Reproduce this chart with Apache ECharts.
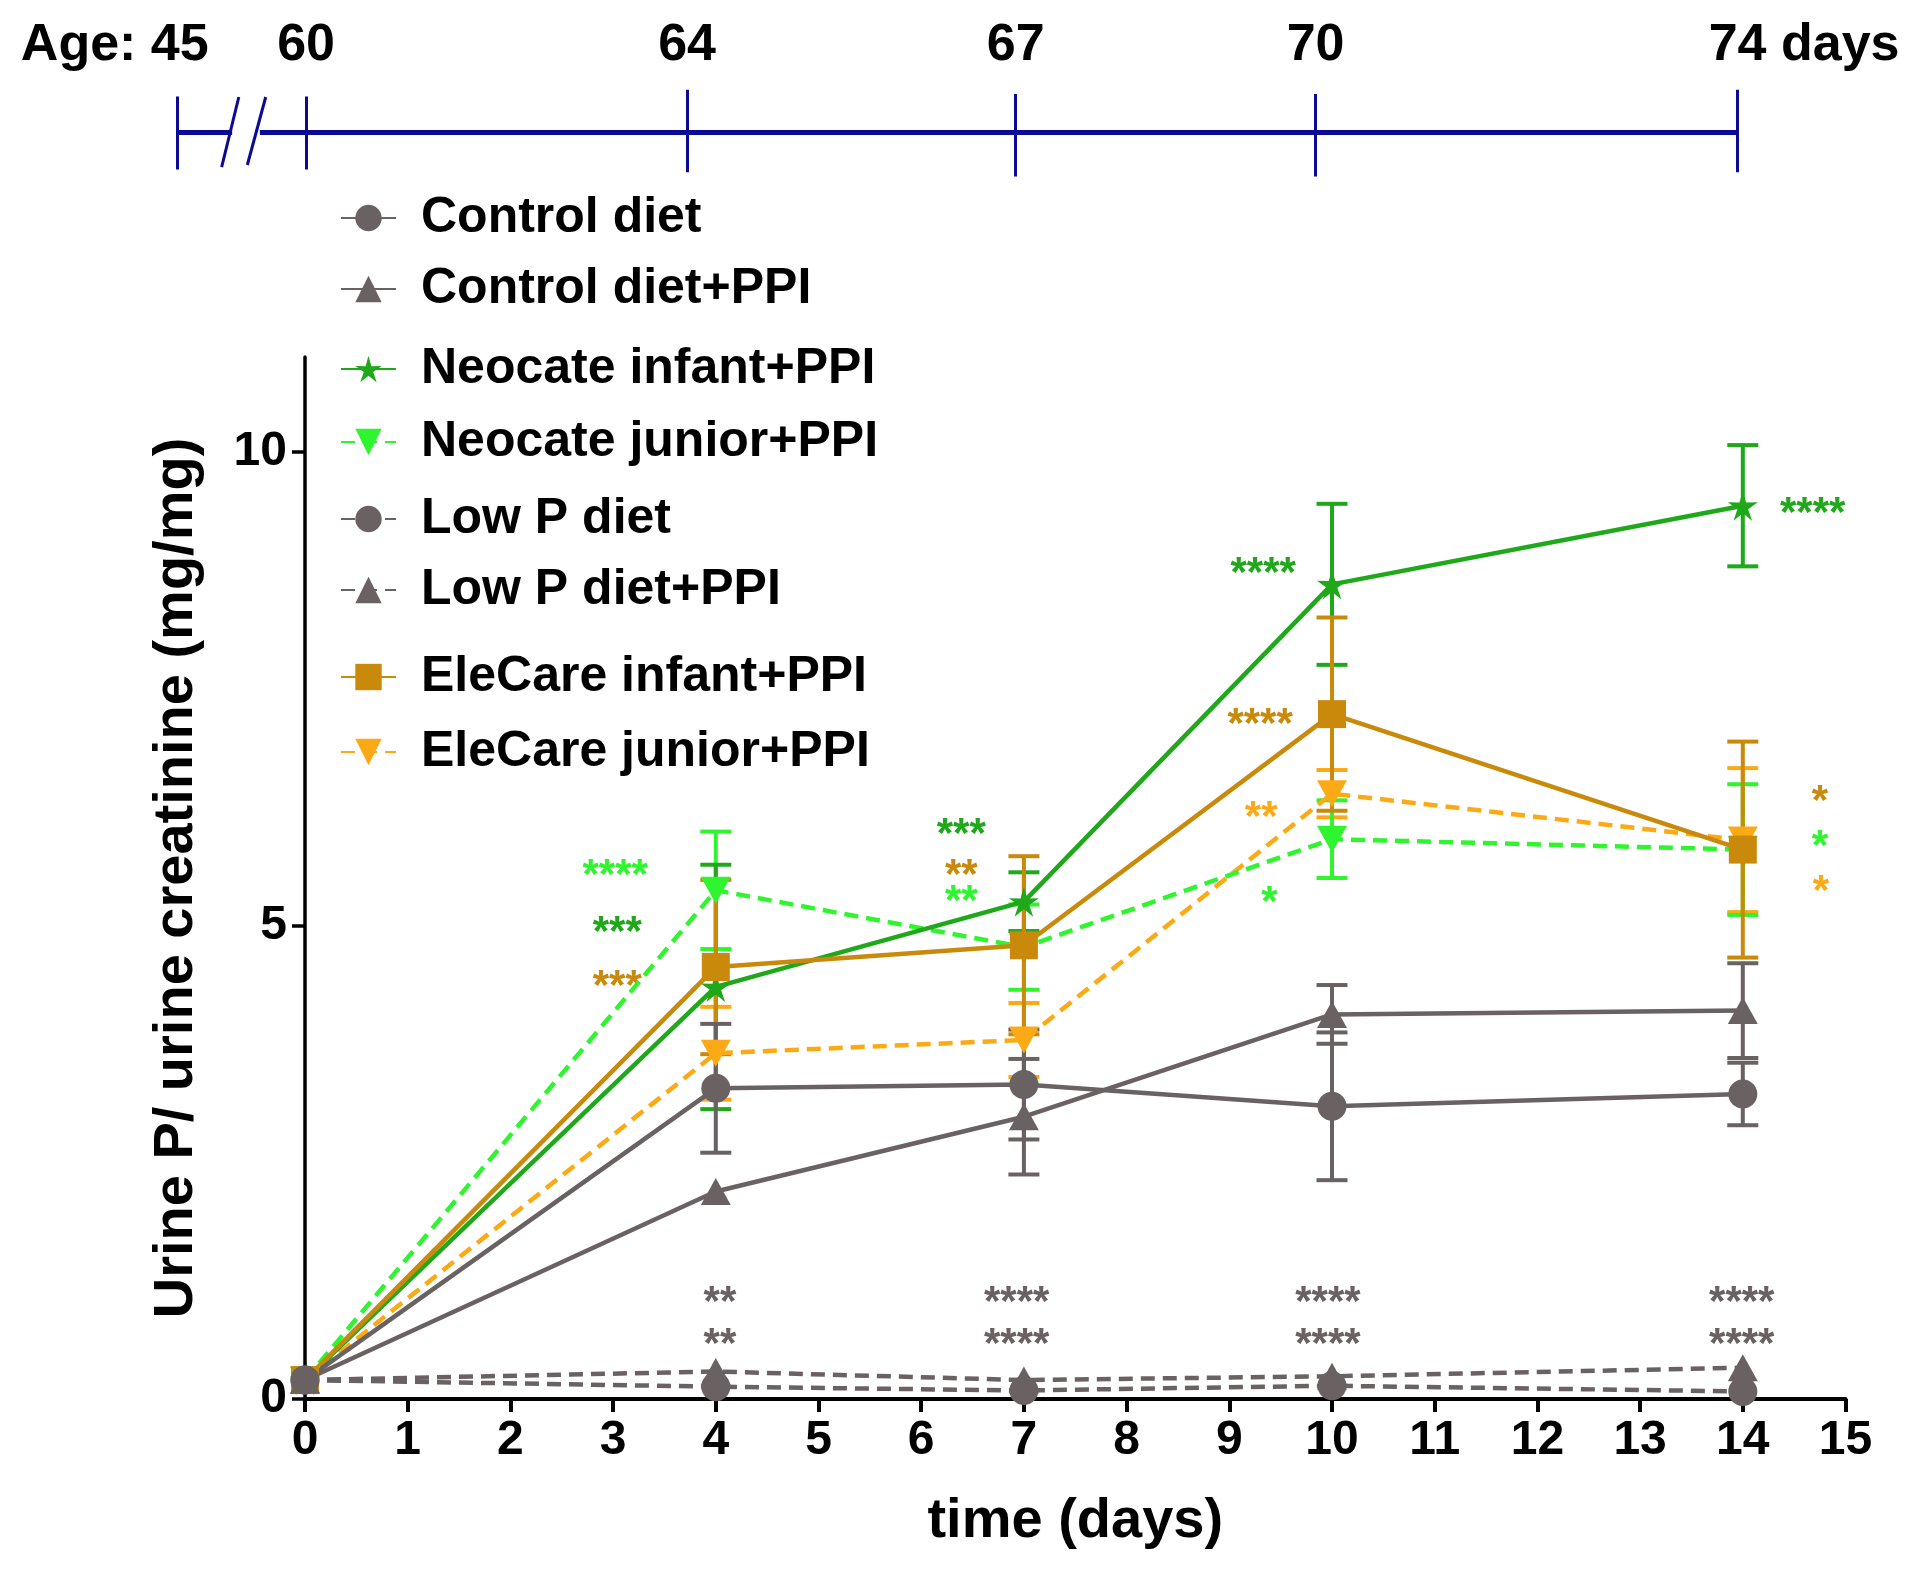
<!DOCTYPE html>
<html><head><meta charset="utf-8">
<script src="https://cdn.jsdelivr.net/npm/echarts@6/dist/echarts.min.js"></script>
<style>html,body{margin:0;padding:0;background:#fff}#c{width:1920px;height:1570px}</style>
</head><body><div id="c"></div>
<script>
// ---------- data ----------
const days = [0, 4, 7, 10, 14];
const xTickValues = [0,1,2,3,4,5,6,7,8,9,10,11,12,13,14,15];
const yTickValues = [0, 5, 10];

const controlDiet       = [0.2, 3.28, 3.32, 3.09, 3.22];
const controlDietErr    = [0, 0.68, 0.58, 0.78, 0.33];
const controlDietPPI    = [0.2, 2.19, 2.98, 4.06, 4.10];
const controlDietPPIErr = [0, 0, 0.61, 0.31, 0.50];
const neoInfant         = [0.2, 4.35, 5.25, 8.60, 9.43];
const neoInfantErr      = [0, 1.29, 0.31, 0.85, 0.64];
const neoJunior         = [0.2, 5.37, 4.77, 5.91, 5.80];
const neoJuniorErr      = [0, 0.62, 0.45, 0.41, 0.69];
const lowP              = [0.2, 0.13, 0.09, 0.14, 0.08];
const lowPErr           = [0, 0, 0, 0, 0];
const lowPPPI           = [0.2, 0.29, 0.20, 0.24, 0.33];
const lowPPPIErr        = [0, 0, 0, 0, 0];
const eleInfant         = [0.2, 4.56, 4.79, 7.23, 5.80];
const eleInfantErr      = [0, 0.92, 0.94, 1.02, 1.14];
const eleJunior         = [0.2, 3.65, 3.79, 6.39, 5.90];
const eleJuniorErr      = [0, 0.49, 0.39, 0.25, 0.76];

// significance marks (position in day / value units, text, colour key)
const annotationX = [3.02, 3.04, 3.04, 6.39, 6.39, 6.39, 9.33, 9.30, 9.31, 9.39, 14.68, 14.75, 14.75, 14.76, 4.04, 4.04, 6.93, 6.93, 9.96, 9.96, 13.99, 13.99];
const annotationY = [5.61, 5.01, 4.44, 6.04, 5.61, 5.34, 8.80, 7.21, 6.22, 5.33, 9.43, 6.39, 5.92, 5.44, 1.10, 0.66, 1.10, 0.66, 1.10, 0.66, 1.10, 0.66];
const annotationText = ['****','***','***','***','**','**','****','****','**','*','****','*','*','*','**','**','****','****','****','****','****','****'];
const annotationColor = ['lg','dg','gd','dg','gd','lg','dg','gd','or','lg','dg','gd','lg','or','gr','gr','gr','gr','gr','gr','gr','gr'];

// age timeline (positions on the day scale)
const timelineLabels = ['Age: 45', '60', '64', '67', '70', '74 days'];
const timelineDays   = [-1.24, 0.01, 3.72, 6.92, 9.84, 13.95];
const timelineTickTop    = [0.55, 0.55, 0.59, 0.565, 0.565, 0.59];
const timelineTickBottom = [0.12, 0.12, 0.105, 0.08, 0.08, 0.105];
const timelineLineY = 0.337;
const timelineLabelY = 0.85;
const timelineSegments = [[-1.24, -0.71], [-0.44, 13.95]];
const timelineBreaks = [[[-0.645, 0.547], [-0.812, 0.135]], [[-0.383, 0.547], [-0.562, 0.147]]];

// ---------- styles ----------
const FONT = "'Liberation Sans', Arial, Helvetica, sans-serif";
const C = {gr:'#6a6163', dg:'#1ea81a', lg:'#2ef52e', gd:'#c98a0c', or:'#fbaa16', navy:'#0a0a96'};
const STAR = 'path://M0,-10L2.1,-2.9L9.51,-3.09L3.4,1.1L5.88,8.09L0,3.6L-5.88,8.09L-3.4,1.1L-9.51,-3.09L-2.1,-2.9Z';
const DOWN = 'path://M0,0L10,0L5,9Z';

function lineSeries(name, values, color, symbol, size, dashed) {
  return {
    type: 'line', name, xAxisIndex: 0, yAxisIndex: 0,
    data: days.map((d, i) => [d, values[i]]),
    symbol, symbolSize: size, showAllSymbol: true, clip: false,
    lineStyle: {color, width: 4.5, type: dashed ? [14, 8] : 'solid'},
    itemStyle: {color, opacity: 1},
    emphasis: {disabled: true}, animation: false
  };
}
function errSeries(name, values, errs, color) {
  return {
    type: 'custom', name: name + ' err', xAxisIndex: 0, yAxisIndex: 0,
    data: days.map((d, i) => [d, values[i], errs[i]]),
    encode: {x: 0, y: 1},
    renderItem(params, api) {
      const x = api.value(0), y = api.value(1), e = api.value(2);
      if (!e) return null;
      const t = api.coord([x, y + e]), b = api.coord([x, y - e]);
      const hw = 15.5, st = {stroke: color, lineWidth: 4};
      return {type: 'group', children: [
        {type: 'line', shape: {x1: t[0], y1: t[1], x2: b[0], y2: b[1]}, style: st},
        {type: 'line', shape: {x1: t[0]-hw, y1: t[1], x2: t[0]+hw, y2: t[1]}, style: st},
        {type: 'line', shape: {x1: b[0]-hw, y1: b[1], x2: b[0]+hw, y2: b[1]}, style: st}
      ]};
    },
    silent: true, animation: false
  };
}

const defs = [
  ['EleCare junior+PPI', eleJunior, eleJuniorErr, C.or, DOWN, [30, 27], true],
  ['Neocate junior+PPI', neoJunior, neoJuniorErr, C.lg, DOWN, [30, 27], true],
  ['Neocate infant+PPI', neoInfant, neoInfantErr, C.dg, STAR, 30, false],
  ['EleCare infant+PPI', eleInfant, eleInfantErr, C.gd, 'rect', 28, false],
  ['Control diet+PPI', controlDietPPI, controlDietPPIErr, C.gr, 'triangle', [30, 27], false],
  ['Control diet', controlDiet, controlDietErr, C.gr, 'circle', 29, false],
  ['Low P diet+PPI', lowPPPI, lowPPPIErr, C.gr, 'triangle', [30, 27], true],
  ['Low P diet', lowP, lowPErr, C.gr, 'circle', 29, true]
];
const series = [];
defs.forEach(d => {
  series.push(errSeries(d[0], d[1], d[2], d[3]));
  series.push(lineSeries(d[0], d[1], d[3], d[4], d[5], d[6]));
});

// significance labels
series.push({
  type: 'scatter', name: 'sig', xAxisIndex: 0, yAxisIndex: 0, symbolSize: 1,
  itemStyle: {color: 'rgba(0,0,0,0)'}, silent: true, animation: false,
  data: annotationX.map((x, i) => ({
    value: [x, annotationY[i]],
    label: {show: true, position: 'inside', formatter: annotationText[i], color: C[annotationColor[i]],
            textBorderWidth: 0, opacity: 1,
            fontSize: 42, fontWeight: 'bold', fontFamily: FONT, offset: [0, 9]}
  }))
});

// timeline
series.push({
  type: 'lines', coordinateSystem: 'cartesian2d', xAxisIndex: 1, yAxisIndex: 1, silent: true, animation: false,
  lineStyle: {color: C.navy, width: 5, opacity: 1, curveness: 0},
  data: timelineSegments.map(s => ({coords: [[s[0], timelineLineY], [s[1], timelineLineY]]}))
});
series.push({
  type: 'lines', coordinateSystem: 'cartesian2d', xAxisIndex: 1, yAxisIndex: 1, silent: true, animation: false,
  lineStyle: {color: C.navy, width: 3, opacity: 1, curveness: 0},
  data: timelineDays.map((x, i) => ({coords: [[x, timelineTickTop[i]], [x, timelineTickBottom[i]]]}))
        .concat(timelineBreaks.map(b => ({coords: b})))
});
series.push({
  type: 'scatter', name: 'ages', xAxisIndex: 1, yAxisIndex: 1, symbolSize: 1, silent: true, animation: false,
  itemStyle: {color: 'rgba(0,0,0,0)'},
  data: timelineDays.map((x, i) => {
    const lab = {show: true, position: 'inside', formatter: timelineLabels[i], color: '#000',
                 textBorderWidth: 0, opacity: 1,
                 fontSize: 52, fontWeight: 'bold', fontFamily: FONT};
    if (i === 0) { lab.align = 'right'; lab.offset = [31, 0]; }
    if (i === timelineDays.length - 1) { lab.align = 'left'; lab.offset = [-29, 0]; }
    return {value: [x, timelineLabelY], label: lab};
  })
});

const legendBase = {
  orient: 'vertical', left: 340, padding: 0, itemWidth: 55, itemHeight: 33, selectedMode: false,
  textStyle: {fontSize: 50, fontWeight: 'bold', color: '#000', fontFamily: FONT, lineHeight: 50, padding: [0, 0, 0, 20]}
};

const option = {
  animation: false,
  backgroundColor: '#fff',
  textStyle: {fontFamily: FONT},
  legend: [
    Object.assign({}, legendBase, {top: 193, itemGap: 21, data: ['Control diet', 'Control diet+PPI']}),
    Object.assign({}, legendBase, {top: 344, itemGap: 23, data: ['Neocate infant+PPI', 'Neocate junior+PPI']}),
    Object.assign({}, legendBase, {top: 494, itemGap: 21, data: ['Low P diet', 'Low P diet+PPI']}),
    Object.assign({}, legendBase, {top: 652, itemGap: 25, data: ['EleCare infant+PPI', 'EleCare junior+PPI']})
  ],
  grid: [
    {left: 305, right: 74.5, top: 357, bottom: 171, outerBoundsMode: 'none', containLabel: false},
    {left: 151, right: 74.5, top: 20, height: 170, outerBoundsMode: 'none', containLabel: false}
  ],
  xAxis: [
    {type: 'value', gridIndex: 0, min: 0, max: 15, interval: 1,
     axisLine: {lineStyle: {color: '#000', width: 4}},
     axisTick: {length: 13, lineStyle: {color: '#000', width: 4}},
     axisLabel: {fontSize: 48, fontWeight: 'bold', color: '#000', margin: 18, fontFamily: FONT,
                 customValues: xTickValues},
     splitLine: {show: false},
     name: 'time (days)', nameLocation: 'middle', nameGap: 95,
     nameTextStyle: {fontSize: 56, fontWeight: 'bold', color: '#000', fontFamily: FONT}},
    {type: 'value', gridIndex: 1, min: -1.5, max: 15, show: false}
  ],
  yAxis: [
    {type: 'value', gridIndex: 0, min: 0, max: 11, interval: 5,
     axisLine: {show: true, lineStyle: {color: '#000', width: 3.5}},
     axisTick: {show: true, length: 13, lineStyle: {color: '#000', width: 3.5}, customValues: yTickValues},
     axisLabel: {fontSize: 48, fontWeight: 'bold', color: '#000', margin: 18, fontFamily: FONT,
                 customValues: yTickValues},
     splitLine: {show: false},
     name: 'Urine P/ urine creatinine (mg/mg)', nameLocation: 'middle', nameGap: 100,
     nameTextStyle: {fontSize: 56, fontWeight: 'bold', color: '#000', fontFamily: FONT}},
    {type: 'value', gridIndex: 1, min: 0, max: 1, show: false}
  ],
  series
};
const chart = echarts.init(document.getElementById('c'), null, {renderer: 'canvas'});
chart.setOption(option);
</script></body></html>
